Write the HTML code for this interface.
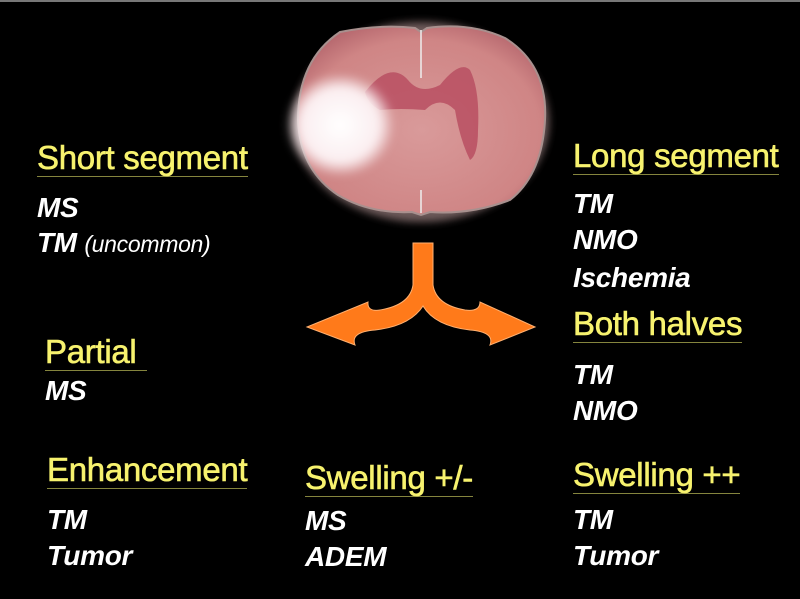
<!DOCTYPE html>
<html><head><meta charset="utf-8"><style>
body{margin:0;background:#000;}
#c{position:relative;width:800px;height:599px;background:#000;overflow:hidden;font-family:"Liberation Sans",sans-serif;}
.h{position:absolute;color:#f7f26e;font-size:33px;line-height:36px;white-space:nowrap;border-bottom:1.5px solid #85853e;padding-right:0px;-webkit-text-stroke:0.6px #f7f26e;letter-spacing:-0.3px;}
.b{position:absolute;color:#fff;font-size:28px;font-style:italic;font-weight:bold;line-height:36px;white-space:nowrap;letter-spacing:-0.3px;}
.b span{font-weight:normal;font-size:23px;}
</style></head><body><div id="c">
<div style="position:absolute;left:0;top:0;width:800px;height:2px;background:#777"></div>
<svg width="800" height="599" style="position:absolute;left:0;top:0">
<defs>
<radialGradient id="g" cx="50%" cy="55%" r="60%"><stop offset="0" stop-color="#d99a9a"/><stop offset="0.8" stop-color="#cf8585"/><stop offset="1" stop-color="#b86a70"/></radialGradient>
<radialGradient id="w" cx="50%" cy="50%" r="50%"><stop offset="0" stop-color="#fff"/><stop offset="0.7" stop-color="#fbeef0"/><stop offset="1" stop-color="#fbeef0" stop-opacity="0"/></radialGradient>
<filter id="bl"><feGaussianBlur stdDeviation="4"/></filter>
</defs>
<ellipse cx="421" cy="122" rx="128" ry="100" fill="#6d5a5a" filter="url(#bl)"/>
<path d="M340 32 Q380 24 415 28 L421 32 L427 28 Q470 22 505 38 Q548 65 545 120 Q542 175 510 200 Q470 215 430 212 L421 215 L412 212 Q370 214 338 195 Q300 170 298 120 Q298 60 340 32 Z" fill="url(#g)" stroke="#a8908e" stroke-width="2"/>
<path d="M365 92 Q390 60 408 80 Q420 95 440 85 Q460 60 470 70 Q480 90 478 130 Q478 155 470 160 Q460 140 455 110 Q440 95 425 110 Q400 108 380 110 Q368 104 365 92Z" fill="#b94f62" opacity="0.85"/>
<ellipse cx="340" cy="125" rx="55" ry="52" fill="url(#w)" filter="url(#bl)"/>
<line x1="421" y1="30" x2="421" y2="78" stroke="#eee" stroke-width="1.5"/>
<line x1="421" y1="190" x2="421" y2="213" stroke="#eee" stroke-width="1.5"/>
<path d="M413 243 L433 243 L433 285 Q436 305 465 310 Q480 312 480 302 L535 327 L490 345 Q495 332 470 330 Q435 326 423 306 Q410 326 375 330 Q350 332 355 345 L307 327 L368 302 Q367 312 380 310 Q410 305 413 285 Z" fill="#ff7a1a" stroke="#ffb070" stroke-width="1"/>
</svg>
<div class="h" style="left:37px;top:140px">Short segment</div>
<div class="b" style="left:37px;top:190px">MS</div>
<div class="b" style="left:37px;top:225px">TM <span>(uncommon)</span></div>
<div class="h" style="left:573px;top:138px">Long segment</div>
<div class="b" style="left:573px;top:186px">TM</div>
<div class="b" style="left:573px;top:222px">NMO</div>
<div class="b" style="left:573px;top:260px">Ischemia</div>
<div class="h" style="left:573px;top:306px">Both halves</div>
<div class="b" style="left:573px;top:357px">TM</div>
<div class="b" style="left:573px;top:393px">NMO</div>
<div class="h" style="left:45px;top:334px;width:102px">Partial</div>
<div class="b" style="left:45px;top:373px">MS</div>
<div class="h" style="left:47px;top:452px">Enhancement</div>
<div class="b" style="left:47px;top:502px">TM</div>
<div class="b" style="left:47px;top:538px">Tumor</div>
<div class="h" style="left:305px;top:460px">Swelling +/-</div>
<div class="b" style="left:305px;top:503px">MS</div>
<div class="b" style="left:305px;top:539px">ADEM</div>
<div class="h" style="left:573px;top:457px">Swelling ++</div>
<div class="b" style="left:573px;top:502px">TM</div>
<div class="b" style="left:573px;top:538px">Tumor</div>
</div></body></html>
